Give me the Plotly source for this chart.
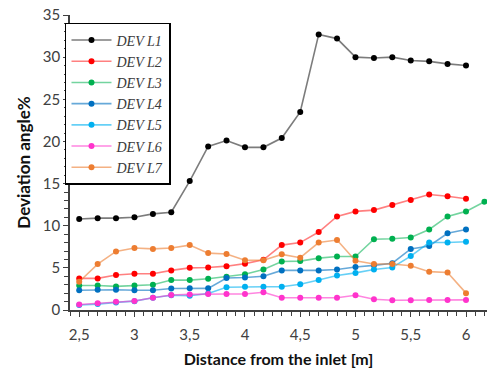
import plotly.graph_objects as go

X = [2.5, 2.667, 2.833, 3.0, 3.167, 3.333, 3.5, 3.667, 3.833, 4.0, 4.167,
     4.333, 4.5, 4.667, 4.833, 5.0, 5.167, 5.333, 5.5, 5.667, 5.833, 6.0, 6.167]

L1 = [10.8, 10.9, 10.9, 11.0, 11.4, 11.6, 15.3, 19.4, 20.1, 19.3, 19.3,
      20.4, 23.5, 32.7, 32.2, 30.0, 29.9, 30.0, 29.6, 29.5, 29.2, 29.0]
L2 = [3.75, 3.75, 4.15, 4.3, 4.3, 4.7, 5.0, 5.05, 5.2, 5.5, 5.95,
      7.7, 8.0, 9.25, 11.1, 11.7, 11.85, 12.45, 13.05, 13.7, 13.5, 13.2]
L3 = [2.9, 2.9, 2.8, 2.9, 3.0, 3.55, 3.55, 3.7, 3.95, 4.25, 4.8,
      5.75, 5.8, 6.15, 6.35, 6.35, 8.4, 8.45, 8.6, 9.55, 11.1, 11.7, 12.85]
L4 = [2.35, 2.4, 2.4, 2.35, 2.35, 2.55, 2.57, 2.57, 3.8, 3.85, 4.0,
      4.7, 4.7, 4.7, 4.8, 5.1, 5.3, 5.55, 7.25, 7.6, 9.1, 9.55]
L5 = [0.6, 0.7, 0.9, 1.05, 1.45, 1.75, 1.7, 1.95, 2.7, 2.75, 2.75,
      2.75, 3.05, 3.55, 4.1, 4.4, 4.8, 5.05, 6.4, 8.0, 8.0, 8.1]
L6 = [0.65, 0.8, 0.98, 1.07, 1.45, 1.78, 1.85, 1.9, 1.9, 1.9, 2.1,
      1.45, 1.45, 1.45, 1.45, 1.74, 1.27, 1.15, 1.15, 1.2, 1.2, 1.2]
L7 = [3.35, 5.45, 6.95, 7.35, 7.25, 7.35, 7.7, 6.75, 6.65, 5.9, 5.9,
      6.6, 6.2, 8.0, 8.3, 5.85, 5.45, 5.45, 5.25, 4.55, 4.45, 2.0]

NAMES = ["DEV L1", "DEV L2", "DEV L3", "DEV L4", "DEV L5", "DEV L6", "DEV L7"]
SERIES = [L1, L2, L3, L4, L5, L6, L7]
MARKER_COLORS = ["#000000", "#FF0000", "#00B050", "#0070C0", "#00B0F0", "#FF33CC", "#ED7D31"]
LINE_COLORS = ["rgba(110,110,110,0.9)", "rgba(255,60,60,0.65)", "rgba(0,176,80,0.55)",
               "rgba(0,112,192,0.6)", "rgba(0,176,240,0.6)", "rgba(255,51,204,0.6)",
               "rgba(237,125,49,0.6)"]

fig = go.Figure()
for name, ys, mc, lc in zip(NAMES, SERIES, MARKER_COLORS, LINE_COLORS):
    fig.add_trace(go.Scatter(
        x=X[:len(ys)], y=ys, name=name, mode="lines+markers",
        line=dict(color=lc, width=1.6),
        marker=dict(color=mc, size=6),
    ))

axis_font = dict(family="Lato, Liberation Sans, sans-serif", size=15, color="#404040")

fig.update_layout(
    width=488, height=372,
    margin=dict(l=70, r=1, t=15, b=62),
    paper_bgcolor="white", plot_bgcolor="white",
    separators=", ",
    showlegend=True,
    legend=dict(
        x=-0.012, y=0.973, xanchor="left", yanchor="top",
        bgcolor="white", bordercolor="black", borderwidth=1.5,
        font=dict(family="Liberation Serif, serif", size=14, color="#3a3a3a", style="italic"),
        itemwidth=40, tracegroupgap=0,
    ),
    xaxis=dict(
        range=[2.4167, 6.19], tick0=2.5, dtick=0.5,
        showgrid=False, zeroline=False,
        showline=True, linecolor="#404040", linewidth=1.5,
        ticks="outside", ticklen=5, tickcolor="#404040", tickwidth=1.2,
        minor=dict(tick0=2.5, dtick=1/12, ticks="outside", ticklen=4,
                   tickcolor="#404040", tickwidth=1.2, showgrid=False),
        tickfont=axis_font, ticklabelstandoff=5,
        title=dict(text="<b>Distance from the inlet [m]</b>",
                   font=dict(family="Lato, Liberation Sans, sans-serif", size=16, color="#111111"),
                   standoff=12),
    ),
    yaxis=dict(
        range=[0, 35], tick0=0, dtick=5,
        showgrid=False, zeroline=False,
        showline=True, linecolor="#404040", linewidth=1.5,
        ticks="outside", ticklen=5, tickcolor="#404040", tickwidth=1.2,
        minor=dict(tick0=0, dtick=1, ticks="outside", ticklen=4,
                   tickcolor="#404040", tickwidth=1.2, showgrid=False),
        tickfont=axis_font,
        title=dict(text="<b>Deviation angle%</b>",
                   font=dict(family="Lato, Liberation Sans, sans-serif", size=17, color="#111111"),
                   standoff=8),
    ),
)

fig.write_html("out.html")
